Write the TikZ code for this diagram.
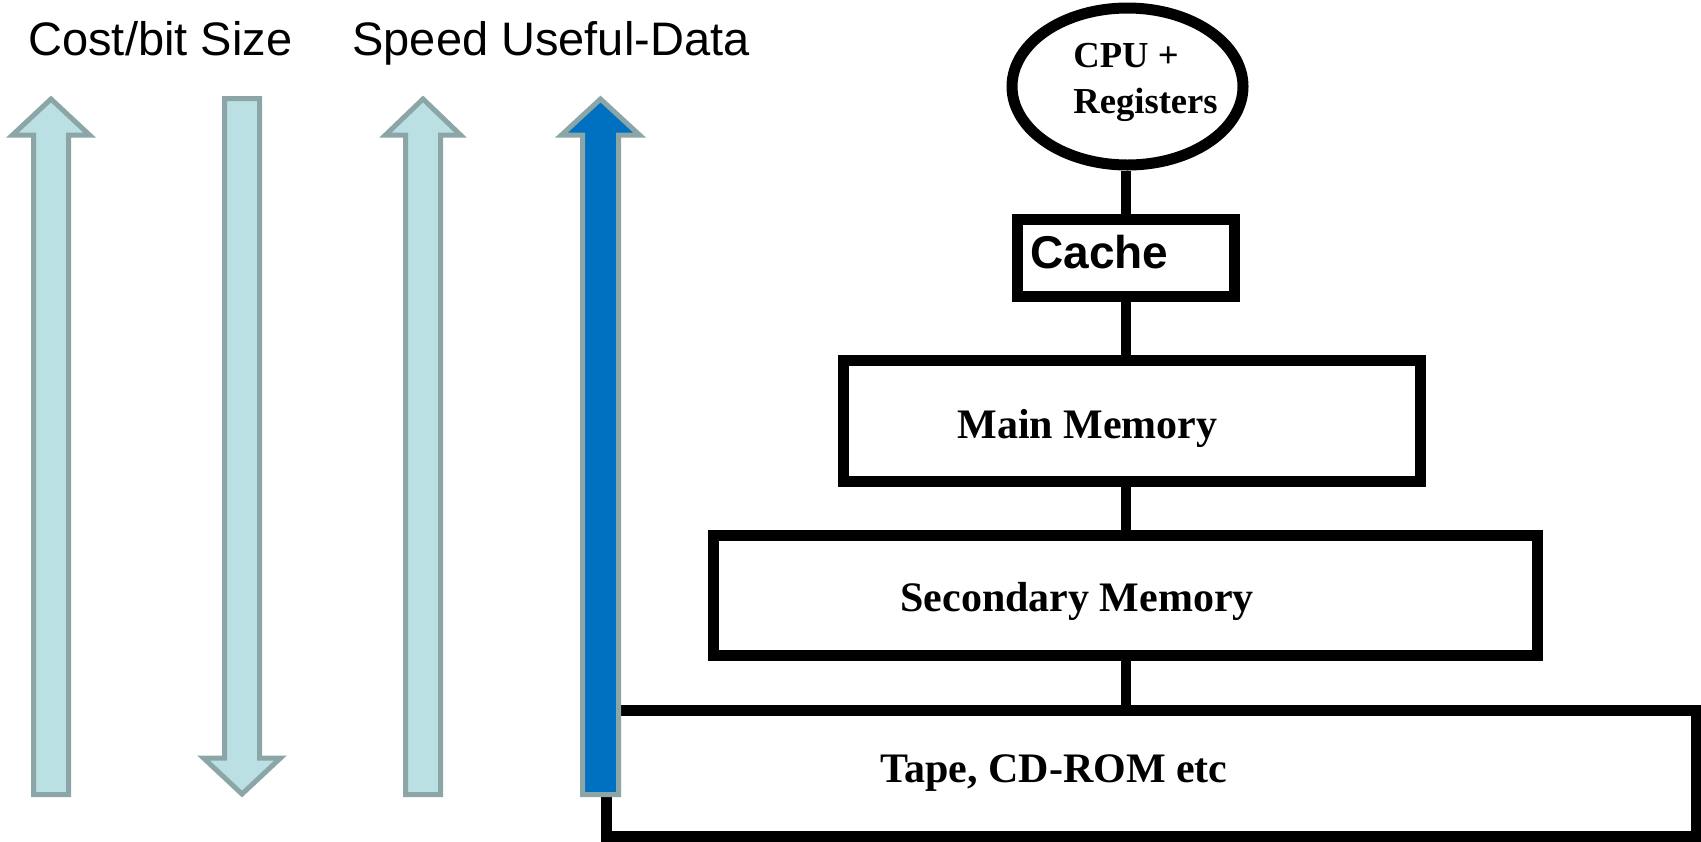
\documentclass[tikz,border=0pt]{standalone}
\usepackage{fontspec}
\setmainfont{Liberation Serif}
\newfontfamily\arialf{Liberation Sans}
\usetikzlibrary{shapes.geometric}
\definecolor{arrfill}{RGB}{187,224,227}
\definecolor{arrline}{RGB}{140,166,168}
\definecolor{blueful}{RGB}{0,112,192}
\tikzset{
  box/.style={draw=black, line width=5.5pt, fill=white, inner sep=0pt},
  conn/.style={draw=black, line width=5pt},
  bigarrow/.style={draw=arrline, line width=2.5pt, fill=arrfill},
  lbl/.style={anchor=base west, inner sep=0pt, font=\bfseries\fontsize{21}{24}\selectfont},
  cpulbl/.style={anchor=base west, inner sep=0pt, font=\bfseries\fontsize{18.3}{22}\selectfont},
  toplbl/.style={anchor=base west, inner sep=0pt, font=\arialf\fontsize{23.5}{28}\selectfont},
}
\begin{document}
\begin{tikzpicture}[x=0.5pt,y=-0.5pt]
\useasboundingbox (0,0) rectangle (1701,841);
% memory hierarchy
\node[box, ellipse, minimum width=115.5pt, minimum height=78.5pt] (cpu) at (1127.5,86.5) {};
\node[box, rectangle, minimum width=108.5pt, minimum height=38.5pt] (cache) at (1126,257.5) {};
\node[box, rectangle, minimum width=288.5pt, minimum height=60.5pt] (main) at (1131.5,420.5) {};
\node[box, rectangle, minimum width=412pt, minimum height=60pt] (sec) at (1125,595) {};
\node[box, rectangle, minimum width=545pt, minimum height=63pt] (tape) at (1151,773) {};
\draw[conn] (cache.north |- cpu.south) -- (cache.north);
\draw[conn] (cache.south) -- (cache.south |- main.north);
\draw[conn] (cache.south |- main.south) -- (cache.south |- sec.north);
\draw[conn] (cache.south |- sec.south) -- (cache.south |- tape.north);
% labels
\node[cpulbl] (cpu1) at (1073,67) {CPU +};
\node[cpulbl] (cpu2) at (1073,113) {Registers};
\node[anchor=base west, inner sep=0pt, font=\arialf\bfseries\fontsize{23}{28}\selectfont] (cachelbl) at (1030,268) {Cache};
\node[lbl] (mainlbl) at (957,438) {Main Memory};
\node[lbl] (seclbl) at (900,611) {Secondary Memory};
\node[lbl] (tapelbl) at (880,782) {Tape, CD-ROM etc};
% top labels
\node[toplbl] (costlbl) at (28,55) {Cost/bit Size};
\node[toplbl] (speedlbl) at (352,55) {Speed Useful-Data};
% big arrows
\draw[bigarrow] (33.5,794.5) -- (33.5,135) -- (12.5,135) -- (51,99) -- (89.5,135) -- (68.5,135) -- (68.5,794.5) -- cycle;
\draw[bigarrow] (224.5,98.5) -- (224.5,758) -- (203.5,758) -- (242,794) -- (280.5,758) -- (259.5,758) -- (259.5,98.5) -- cycle;
\draw[bigarrow] (405.5,794.5) -- (405.5,135) -- (385.5,135) -- (423,99) -- (460.5,135) -- (440.5,135) -- (440.5,794.5) -- cycle;
\draw[bigarrow, fill=blueful] (582.5,794.5) -- (582.5,135) -- (561.5,135) -- (600.5,99) -- (639.5,135) -- (618.5,135) -- (618.5,794.5) -- cycle;
\end{tikzpicture}
\end{document}
